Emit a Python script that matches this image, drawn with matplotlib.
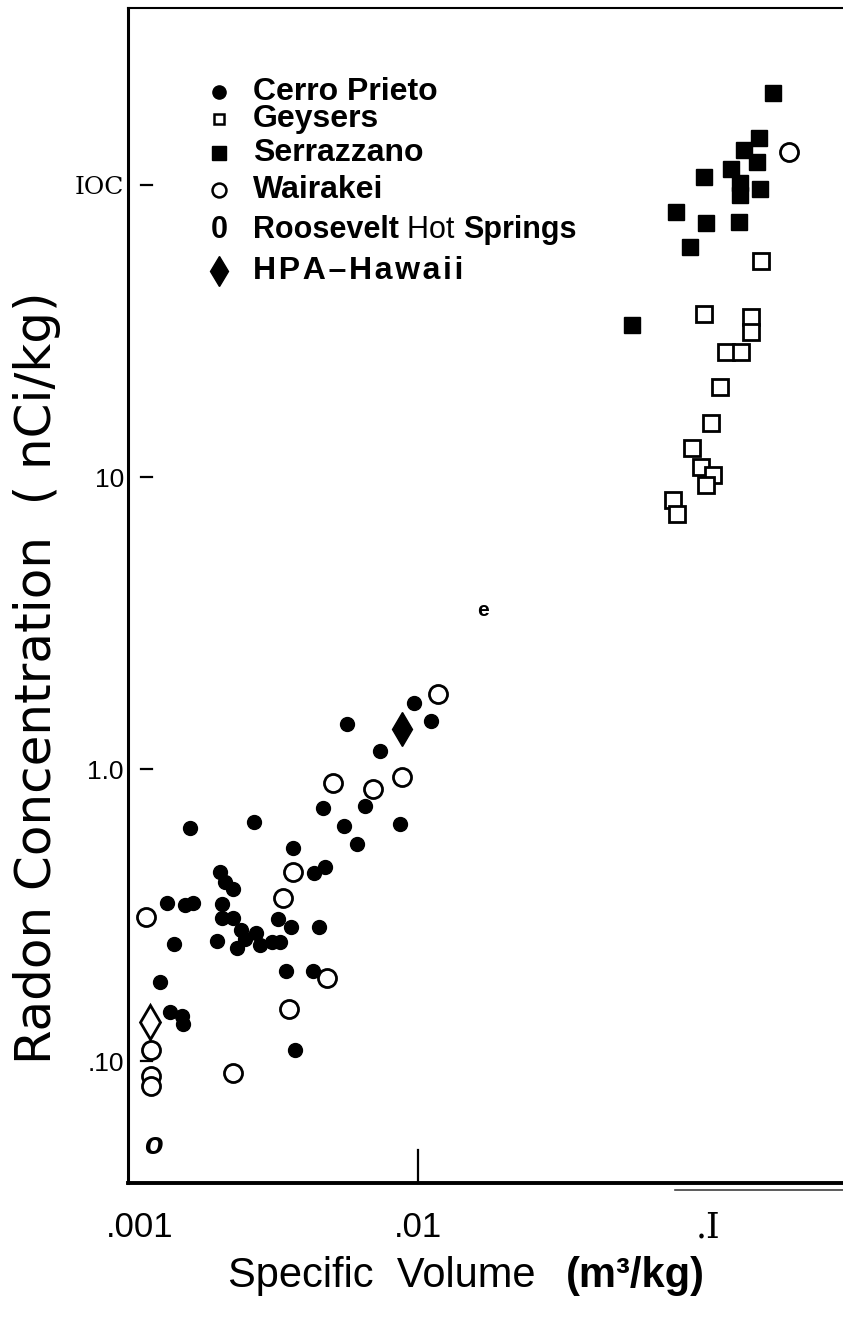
import matplotlib
matplotlib.use("Agg")
import matplotlib.pyplot as plt
from matplotlib.lines import Line2D
from matplotlib.transforms import ScaledTranslation

# radon concentration (nCi/kg) against specific volume (m3/kg) for each field
cerro_prieto_x = [0.00164, 0.00272, 0.00371, 0.00208, 0.00216, 0.00230, 0.00136, 0.00157,
                  0.00168, 0.00211, 0.00211, 0.00230, 0.00329, 0.00365, 0.00456, 0.00245,
                  0.00276, 0.00253, 0.00285, 0.00314, 0.00334, 0.00238, 0.00203, 0.00144,
                  0.00129, 0.00351, 0.00435, 0.00140, 0.00154, 0.00155, 0.00377, 0.00438,
                  0.00478, 0.00556, 0.00616, 0.00470, 0.00657, 0.00867, 0.00740, 0.00569,
                  0.00969, 0.01108]
cerro_prieto_y = [0.628, 0.658, 0.536, 0.444, 0.410, 0.388, 0.348, 0.342,
                  0.348, 0.345, 0.309, 0.309, 0.306, 0.288, 0.288, 0.281,
                  0.274, 0.262, 0.250, 0.256, 0.255, 0.244, 0.258, 0.252,
                  0.1865, 0.2033, 0.2033, 0.1472, 0.1426, 0.1339, 0.1090, 0.440,
                  0.462, 0.638, 0.553, 0.735, 0.747, 0.648, 1.152, 1.426,
                  1.682, 1.460]

geysers_x = [0.1523, 0.0969, 0.1407, 0.1407, 0.1153, 0.1299, 0.1100, 0.1024,
             0.0881, 0.0946, 0.1040, 0.0984, 0.0757, 0.0782]
geysers_y = [54.9, 36.2, 35.3, 31.4, 26.8, 26.8, 20.3, 15.3,
             12.6, 10.8, 10.2, 9.39, 8.34, 7.47]

serrazzano_x = [0.1675, 0.1499, 0.1331, 0.1476, 0.0969, 0.1200, 0.1289, 0.1289,
                0.1511, 0.0776, 0.0984, 0.1279, 0.0867, 0.0547]
serrazzano_y = [206.6, 144.9, 131.8, 119.9, 106.5, 113.4, 101.6, 92.4,
                96.9, 80.8, 74.1, 74.7, 61.3, 33.2]

wairakei_x = [0.1903, 0.01172, 0.00509, 0.00700, 0.00881, 0.00371, 0.00342, 0.00115,
              0.00486, 0.00359, 0.00230, 0.00120, 0.00120, 0.00120]
wairakei_y = [129.7, 1.806, 0.896, 0.854, 0.939, 0.444, 0.3615, 0.311,
              0.1924, 0.1507, 0.0910, 0.1090, 0.0888, 0.0821]

roosevelt_x = [0.01675, 0.00122]
roosevelt_y = [3.50, 0.0512]
roosevelt_glyph = ["e", "o"]

hawaii_x = [0.00881]
hawaii_y = [1.371]
hawaii_open_x = [0.00119]
hawaii_open_y = [0.136]

x_ticks = [0.001, 0.01, 0.1]
x_ticklabels = [".001", ".01", ".I"]
y_ticks = [100, 10, 1, 0.1]
y_ticklabels = ["IOC", "10", "1.0", ".10"]

SANS = ["Liberation Sans", "DejaVu Sans"]

fig = plt.figure(figsize=(8.43, 13.18), dpi=100)
ax = fig.add_axes([0.1518, 0.1024, 0.8482, 0.8915])
ax.set_xscale("log")
ax.set_yscale("log")
ax.set_xlim(0.001, 0.292)
ax.set_ylim(0.0382, 404)

ax.spines["right"].set_visible(False)
ax.spines["left"].set_linewidth(2.2)
ax.spines["top"].set_linewidth(1.5)
ax.spines["bottom"].set_linewidth(2.8)

ax.minorticks_off()
ax.set_xticks(x_ticks)
ax.set_xticklabels(x_ticklabels, fontsize=25, family=SANS)
ax.set_yticks(y_ticks)
ax.set_yticklabels(y_ticklabels, fontsize=19, family=SANS)
ax.tick_params(axis="both", which="both", length=0)
ax.tick_params(axis="x", pad=20)
ax.tick_params(axis="y", pad=3)
xl = ax.get_xticklabels()
xl[2].set_family("serif")
xl[0].set_transform(xl[0].get_transform() + ScaledTranslation(0.12, 0, fig.dpi_scale_trans))
yl = ax.get_yticklabels()
yl[0].set_family("serif")
yl[0].set_fontsize(18)

# short detached dashes for the decades, one inner tick at .01
for yt in y_ticks:
    ax.plot([0.018, 0.034], [yt, yt], color="black", lw=1.6,
            transform=ax.get_yaxis_transform(), clip_on=False)
ax.plot([0.01, 0.01], [0, 0.028], color="black", lw=1.6,
        transform=ax.get_xaxis_transform(), clip_on=False)
fig.add_artist(Line2D([675 / 843, 1.0], [1 - 1190 / 1318] * 2, color="0.25", lw=1.2))

# data
ax.plot(cerro_prieto_x, cerro_prieto_y, "o", ms=10, color="black", ls="none")
ax.plot(geysers_x, geysers_y, "s", ms=11, mfc="white", mec="black", mew=2, ls="none")
ax.plot(serrazzano_x, serrazzano_y, "s", ms=12, color="black", ls="none")
ax.plot(wairakei_x, wairakei_y, "o", ms=13, mfc="white", mec="black", mew=2, ls="none")
ax.plot(hawaii_x, hawaii_y, "d", ms=17, color="black", ls="none")
ax.plot(hawaii_open_x, hawaii_open_y, "d", ms=17, mfc="white", mec="black", mew=2, ls="none")
for gx, gy, g in zip(roosevelt_x, roosevelt_y, roosevelt_glyph):
    if g == "o":
        ax.text(gx, gy, g, fontsize=22, style="italic", weight="bold",
                ha="center", va="center", family=SANS)
    else:
        ax.text(gx, gy, g, fontsize=15, weight="bold", ha="center", va="center", family=SANS)

# key
kx, tx = 0.128, 0.1745
rows = [0.9285, 0.9055, 0.8766, 0.8451, 0.8110, 0.7760]
ax.plot(kx, rows[0], "o", ms=9.5, color="black", transform=ax.transAxes, clip_on=False)
ax.plot(kx, rows[1], "s", ms=7.5, mfc="white", mec="black", mew=1.8, transform=ax.transAxes)
ax.plot(kx, rows[2], "s", ms=9.5, color="black", transform=ax.transAxes)
ax.plot(kx, rows[3], "o", ms=10, mfc="white", mec="black", mew=1.8, transform=ax.transAxes)
ax.text(kx, rows[4], "0", fontsize=22, weight="bold", ha="center", va="center",
        family=SANS, transform=ax.transAxes)
ax.plot(kx, rows[5], "d", ms=15, color="black", transform=ax.transAxes)

key_font = dict(fontsize=23, weight="bold", va="center", ha="left", family=SANS,
                transform=ax.transAxes)
ax.text(tx, rows[0], "Cerro Prieto", **key_font)
ax.text(tx, rows[1], "Geysers", **key_font)
ax.text(tx, rows[2], "Serrazzano", **key_font)
ax.text(tx, rows[3], "Wairakei", **key_font)
t1 = ax.text(tx, rows[4], "Roosevelt ", **{**key_font, "fontsize": 22})
fig.canvas.draw()
r = fig.canvas.get_renderer()
bb = t1.get_window_extent(r).transformed(ax.transAxes.inverted())
t2 = ax.text(bb.x1, rows[4], "Hot ", fontsize=22, va="center", ha="left", family=SANS,
             transform=ax.transAxes)
bb2 = t2.get_window_extent(r).transformed(ax.transAxes.inverted())
ax.text(bb2.x1, rows[4], "Springs", **{**key_font, "fontsize": 22})
ax.text(tx, rows[5], "H\u200aP\u200aA\u200a\u2013\u200aH\u200aa\u200aw\u200aa\u200ai\u200ai",
        **{**key_font, "fontsize": 23})

# axis titles
fig.text(0.044, 0.4856, "Radon Concentration  ( nCi/kg)", rotation=90, fontsize=36,
         ha="center", va="center", family=["DejaVu Sans"])
fig.text(228 / 843, 1 - 1276 / 1318, "Specific  Volume", fontsize=30, ha="left",
         va="center", family=SANS)
fig.text(705 / 843, 1 - 1276 / 1318, "(m\u00b3/kg)", fontsize=30, weight="bold",
         ha="right", va="center", family=SANS)

fig.savefig("out.png", dpi=100)
